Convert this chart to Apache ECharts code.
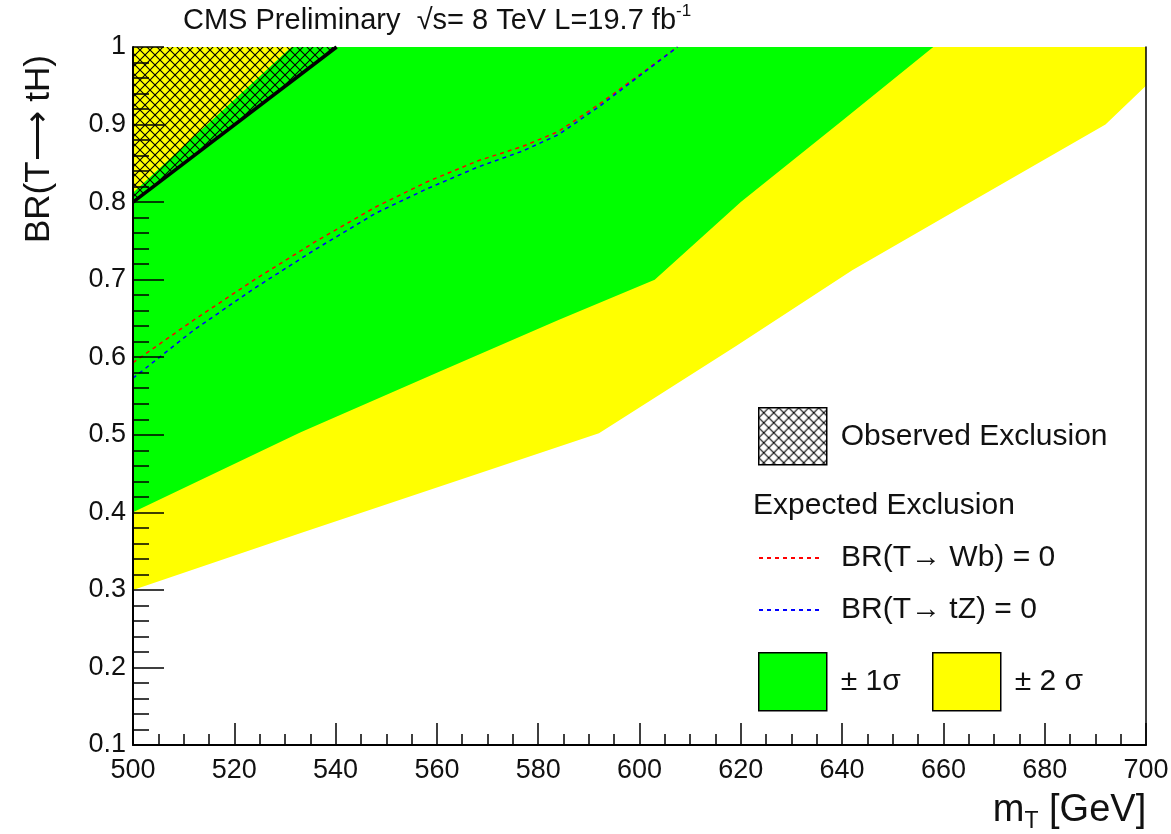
<!DOCTYPE html>
<html>
<head>
<meta charset="utf-8">
<script src="https://cdn.jsdelivr.net/npm/echarts@6/dist/echarts.min.js"></script>
<style>
html,body{margin:0;padding:0;background:#fff;}
#chart{width:1171px;height:834px;}
</style>
</head>
<body>
<div id="chart"></div>
<script>
// ---- data (m_T [GeV], BR(T -> tH)) ----
const twoSigmaLower = [[500,0.300],[533,0.373],[592,0.502],[619,0.614],[642,0.712],[664,0.795],[692,0.900],[700,0.950]];
const oneSigmaLower = [[500,0.400],[533,0.503],[560,0.580],[584,0.648],[603,0.700],[620,0.800],[640,0.905],[658,1.000]];
const oneSigmaUpper = [[500,0.812],[531.3,1.000]];
const observedLimit = [[500,0.800],[540.2,1.000]];
const expectedNoWb = [[500,0.593],[512,0.648],[524,0.700],[536,0.749],[548,0.794],[558,0.826],[568,0.853],[577,0.872],[584,0.891],[592,0.926],[607.5,1.000]];
const expectedNoTz = [[500,0.573],[512,0.635],[524,0.689],[536,0.739],[548,0.786],[558,0.817],[568,0.845],[577,0.866],[584,0.887],[592,0.923],[607.5,1.000]];
const xRange = [500, 700];
const yRange = [0.1, 1.0];
const titleText = 'CMS Preliminary  √s= 8 TeV L=19.7 fb{sup|-1}';

const FONT = '"Liberation Sans", Arial, Helvetica, sans-serif';

function makeHatch(bg) {
  const s = 10;
  const c = document.createElement('canvas');
  c.width = s; c.height = s;
  const g = c.getContext('2d');
  if (bg) { g.fillStyle = bg; g.fillRect(0, 0, s, s); }
  g.strokeStyle = '#000';
  g.lineWidth = 1.1;
  g.beginPath();
  g.moveTo(0, 0); g.lineTo(s, s);
  g.moveTo(s, 0); g.lineTo(0, s);
  g.stroke();
  return c;
}
const hatchPlot = makeHatch(null);
const hatchLegend = makeHatch('#fff');

const chart = echarts.init(document.getElementById('chart'), null, {renderer: 'canvas'});

const legendText = {fontFamily: FONT, fontSize: 30, color: '#111', lineHeight: 34, padding: [0, 0, 0, 9]};
const legendTextLine = {fontFamily: FONT, fontSize: 30, color: '#111', lineHeight: 34, padding: [0, 0, 0, 14]};
const hiddenSymbol = {color: 'rgba(0,0,0,0)', borderWidth: 0, opacity: 0};

const option = {
  animation: false,
  backgroundColor: '#fff',
  title: [
    {
      text: titleText, left: 183, top: 3, padding: 0,
      textStyle: {
        fontFamily: FONT, fontSize: 29, fontWeight: 'normal', color: '#111', lineHeight: 36,
        rich: {sup: {fontFamily: FONT, fontSize: 17, color: '#111', verticalAlign: 'top', lineHeight: 22}}
      }
    },
    {
      text: 'Expected Exclusion', left: 753, top: 489, padding: 0,
      textStyle: {fontFamily: FONT, fontSize: 30, fontWeight: 'normal', color: '#111', lineHeight: 34}
    }
  ],
  grid: {left: 133, right: 25, top: 47, bottom: 89, containLabel: false, outerBoundsMode: 'none'},
  xAxis: {
    type: 'value', min: xRange[0], max: xRange[1], interval: 20, z: 10,
    name: 'm{sub|T} [GeV]', nameLocation: 'middle', nameGap: 40,
    nameTextStyle: {
      fontFamily: FONT, fontSize: 38, color: '#111', lineHeight: 44, padding: [0, 0, 0, 860],
      rich: {sub: {fontFamily: FONT, fontSize: 23, color: '#111', lineHeight: 24, verticalAlign: 'bottom'}}
    },
    axisLine: {show: true, lineStyle: {color: '#000', width: 2}},
    axisTick: {show: true, inside: true, length: 22, lineStyle: {color: '#000', width: 1.5}},
    minorTick: {show: true, splitNumber: 4, length: 11, lineStyle: {color: '#000', width: 1.5}},
    splitLine: {show: false},
    axisLabel: {fontFamily: FONT, fontSize: 27, color: '#111', margin: 12}
  },
  yAxis: [
    {
      type: 'value', min: yRange[0], max: yRange[1], interval: 0.1, position: 'left', z: 10,
      name: 'BR(T⟶ tH)', nameLocation: 'middle', nameGap: 76,
      nameTextStyle: {fontFamily: FONT, fontSize: 35, color: '#111', padding: [0, 0, 0, 494]},
      axisLine: {show: true, lineStyle: {color: '#000', width: 2}},
      axisTick: {show: true, inside: true, length: 31, lineStyle: {color: '#000', width: 1.5}},
      minorTick: {show: true, splitNumber: 5, length: 16, lineStyle: {color: '#000', width: 1.5}},
      splitLine: {show: false},
      axisLabel: {fontFamily: FONT, fontSize: 27, color: '#111', margin: 7}
    },
    {
      type: 'value', min: yRange[0], max: yRange[1], interval: 0.1, position: 'right', z: 10,
      axisLine: {show: true, lineStyle: {color: '#000', width: 1.5}},
      axisTick: {show: false}, axisLabel: {show: false}, splitLine: {show: false}
    }
  ],
  legend: [
    {
      data: [{name: 'Observed Exclusion', icon: 'rect',
              itemStyle: {color: {image: hatchLegend, repeat: 'repeat'}, borderColor: '#000', borderWidth: 1.5}}],
      left: 758, top: 407, itemWidth: 68, itemHeight: 57, padding: 0, selectedMode: false, textStyle: legendText
    },
    {
      data: [{name: 'BR(T→ Wb) = 0', itemStyle: hiddenSymbol}],
      left: 758, top: 541, itemWidth: 63, itemHeight: 14, padding: 0, selectedMode: false, textStyle: legendTextLine
    },
    {
      data: [{name: 'BR(T→ tZ) = 0', itemStyle: hiddenSymbol}],
      left: 758, top: 593, itemWidth: 63, itemHeight: 14, padding: 0, selectedMode: false, textStyle: legendTextLine
    },
    {
      data: [{name: '± 1σ', icon: 'rect', itemStyle: {color: '#00ff00', borderColor: '#000', borderWidth: 1.5}}],
      left: 758, top: 652, itemWidth: 68, itemHeight: 58, padding: 0, selectedMode: false, textStyle: legendText
    },
    {
      data: [{name: '± 2 σ', icon: 'rect', itemStyle: {color: '#ffff00', borderColor: '#000', borderWidth: 1.5}}],
      left: 932, top: 652, itemWidth: 68, itemHeight: 58, padding: 0, selectedMode: false, textStyle: legendText
    }
  ],
  series: [
    {
      type: 'line', name: '± 2 σ', data: twoSigmaLower, symbol: 'none', silent: true,
      itemStyle: {color: '#ffff00'}, lineStyle: {width: 0},
      areaStyle: {color: '#ffff00', opacity: 1, origin: 'end'}
    },
    {
      type: 'line', name: '± 1σ', data: oneSigmaLower, symbol: 'none', silent: true,
      itemStyle: {color: '#00ff00'}, lineStyle: {width: 0},
      areaStyle: {color: '#00ff00', opacity: 1, origin: 'end'}
    },
    {
      type: 'line', name: '± 2 σ (upper)', data: oneSigmaUpper, symbol: 'none', silent: true,
      itemStyle: {color: '#ffff00'}, lineStyle: {width: 0},
      areaStyle: {color: '#ffff00', opacity: 1, origin: 'end'}
    },
    {
      type: 'line', name: 'Observed Exclusion', data: observedLimit, symbol: 'none', silent: true,
      itemStyle: {color: '#000'}, lineStyle: {width: 0},
      areaStyle: {color: {image: hatchPlot, repeat: 'repeat'}, opacity: 1, origin: 'end'}
    },
    {
      type: 'line', name: 'Observed limit', data: observedLimit, symbol: 'none', silent: true,
      itemStyle: {color: '#000'}, lineStyle: {color: '#000', width: 3.5}
    },
    {
      type: 'line', name: 'BR(T→ Wb) = 0', data: expectedNoWb, symbol: 'none', silent: true,
      itemStyle: {color: '#ff0000'}, lineStyle: {color: '#ff0000', width: 1.5, type: [4, 4]}
    },
    {
      type: 'line', name: 'BR(T→ tZ) = 0', data: expectedNoTz, symbol: 'none', silent: true,
      itemStyle: {color: '#0000ff'}, lineStyle: {color: '#0000ff', width: 1.5, type: [4, 4]}
    }
  ]
};
chart.setOption(option);
</script>
</body>
</html>
